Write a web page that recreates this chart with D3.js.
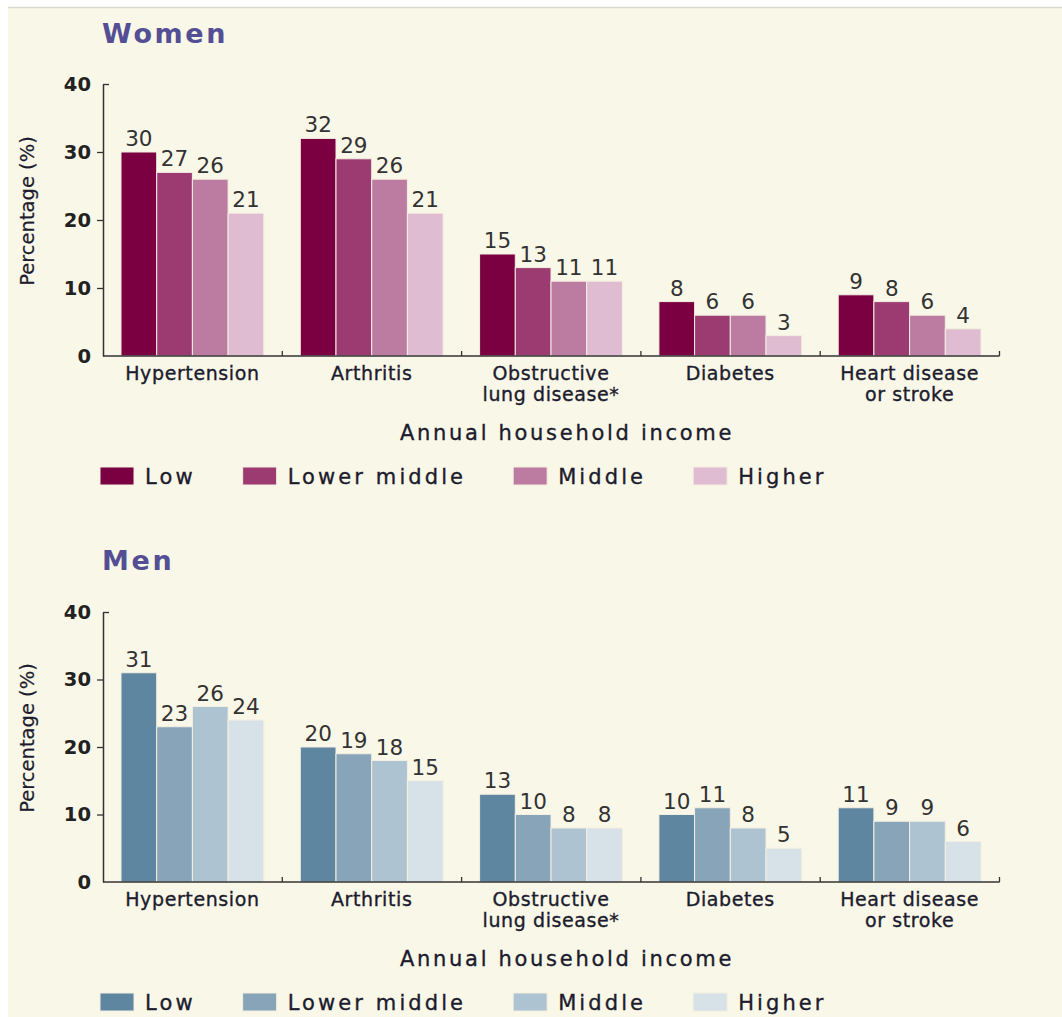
<!DOCTYPE html>
<html>
<head>
<meta charset="utf-8">
<script src="https://cdn.jsdelivr.net/npm/d3@7"></script>
<style>
  html, body { margin: 0; padding: 0; background: #ffffff; }
  svg { display: block; }
  text { font-family: "DejaVu Sans", sans-serif; }
</style>
</head>
<body>
<svg id="chart" width="1062" height="1017"></svg>
<script>
// ---------- data ----------
const categories = ["Hypertension", "Arthritis", "Obstructive\nlung disease*", "Diabetes", "Heart disease\nor stroke"];
const incomeGroups = ["Low", "Lower middle", "Middle", "Higher"];
const yTicks = [0, 10, 20, 30, 40];

const womenLow         = [30, 32, 15, 8, 9];
const womenLowerMiddle = [27, 29, 13, 6, 8];
const womenMiddle      = [26, 26, 11, 6, 6];
const womenHigher      = [21, 21, 11, 3, 4];

const menLow         = [31, 20, 13, 10, 11];
const menLowerMiddle = [23, 19, 10, 11, 9];
const menMiddle      = [26, 18, 8, 8, 9];
const menHigher      = [24, 15, 8, 5, 6];

const womenColors = ["#7b0042", "#9c3b71", "#bc7ca2", "#e0bcd2"];
const menColors   = ["#5f86a0", "#87a4b8", "#adc3d1", "#d6e1e8"];

const panelTitles = ["Women", "Men"];
const xTitle = "Annual household income";
const yTitle = "Percentage (%)";

// ---------- drawing ----------
const svg = d3.select("#chart");
svg.append("rect").attr("x", 8).attr("y", 8).attr("width", 1054).attr("height", 1009).attr("fill", "#f9f7e7");
svg.append("line").attr("x1", 8).attr("x2", 1062).attr("y1", 7.5).attr("y2", 7.5).attr("stroke", "#d9d9cf").attr("stroke-width", 1.5);

const textColor = "#1c1c2e";

function drawPanel(opts) {
  const { title, series, colors, titleY, top, bottom, catY, xTitleY, legendY } = opts;
  const left = 103, right = 999.5;
  const g = svg.append("g");

  // title
  g.append("text").attr("x", 102).attr("y", titleY)
    .attr("font-size", 27).attr("font-weight", "bold").attr("letter-spacing", 2.6)
    .attr("fill", "#544e94").text(title);

  const x = d3.scaleBand().domain(categories).range([left, right]).padding(0);
  const xi = d3.scaleBand().domain(incomeGroups).range([18, x.bandwidth() - 18.5]).padding(0);
  const y = d3.scaleLinear().domain([0, 40]).range([bottom, top]);

  // y axis
  const yAxis = d3.axisLeft(y).tickValues(yTicks).tickSize(6).tickSizeOuter(0).tickPadding(6);
  const ya = g.append("g").attr("transform", `translate(${left},0)`).call(yAxis);
  ya.select(".domain").attr("stroke", "#333").attr("stroke-width", 1.5);
  ya.selectAll(".tick line").attr("stroke", "#333").attr("stroke-width", 1.3);
  ya.selectAll(".tick").filter(d => d === 40).select("line").attr("x2", 6);
  ya.selectAll(".tick").filter(d => d === 0).select("line").remove();
  ya.selectAll(".tick text").attr("font-size", 19.5).attr("font-weight", "bold")
    .attr("font-family", "DejaVu Sans, sans-serif").attr("fill", "#222");

  // y title
  g.append("text")
    .attr("transform", `translate(34,${(top + bottom) / 2 - 9}) rotate(-90)`)
    .attr("text-anchor", "middle").attr("font-size", 19.5).attr("fill", textColor)
    .attr("stroke", textColor).attr("stroke-width", 0.2)
    .text(yTitle);

  // bars
  const groups = g.selectAll(".grp").data(categories).join("g")
    .attr("transform", d => `translate(${x(d)},0)`);
  incomeGroups.forEach((inc, si) => {
    groups.append("rect")
      .attr("x", xi(inc))
      .attr("width", xi.bandwidth())
      .attr("y", (d, ci) => y(series[si][ci]))
      .attr("height", (d, ci) => y(0) - y(series[si][ci]))
      .attr("fill", colors[si])
      .attr("stroke", "#f3efe2").attr("stroke-width", 1);
    groups.append("text")
      .attr("x", xi(inc) + xi.bandwidth() / 2)
      .attr("y", (d, ci) => y(series[si][ci]) - 6)
      .attr("text-anchor", "middle")
      .attr("font-size", 21.5).attr("fill", "#333")
      .text((d, ci) => series[si][ci]);
  });

  // x axis line and group boundary ticks
  g.append("line").attr("x1", left).attr("x2", right).attr("y1", bottom).attr("y2", bottom)
    .attr("stroke", "#333").attr("stroke-width", 1.5);
  g.selectAll(".bt").data(categories).join("line")
    .attr("x1", d => x(d) + x.bandwidth()).attr("x2", d => x(d) + x.bandwidth())
    .attr("y1", bottom).attr("y2", bottom - 5)
    .attr("stroke", "#333").attr("stroke-width", 1.3);

  // category labels (one text per line)
  categories.forEach(c => {
    const cx = x(c) + xi(incomeGroups[0]) + (xi.range()[1] - xi.range()[0]) / 2;
    c.split("\n").forEach((ln, i) => {
      g.append("text").attr("x", cx).attr("y", catY + i * 20.5)
        .attr("text-anchor", "middle").attr("font-size", 19).attr("letter-spacing", 0.6)
        .attr("fill", textColor).attr("stroke", textColor).attr("stroke-width", 0.35)
        .text(ln);
    });
  });

  // x title
  g.append("text").attr("x", 567).attr("y", xTitleY).attr("text-anchor", "middle")
    .attr("font-size", 21).attr("letter-spacing", 2.7).attr("fill", textColor)
    .attr("stroke", textColor).attr("stroke-width", 0.35)
    .text(xTitle);

  // legend
  let lx = 100;
  incomeGroups.forEach((inc, si) => {
    g.append("rect").attr("x", lx).attr("y", legendY).attr("width", 34).attr("height", 18)
      .attr("fill", colors[si]).attr("stroke", "#f3efe2").attr("stroke-width", 1);
    const t = g.append("text").attr("x", lx + 45).attr("y", legendY + 17)
      .attr("font-size", 21).attr("letter-spacing", 3.1).attr("fill", textColor)
      .attr("stroke", textColor).attr("stroke-width", 0.35)
      .text(inc);
    lx = lx + 45 + t.node().getComputedTextLength() + 47;
  });
}

drawPanel({
  title: panelTitles[0],
  series: [womenLow, womenLowerMiddle, womenMiddle, womenHigher],
  colors: womenColors,
  titleY: 43, top: 84, bottom: 356, catY: 380, xTitleY: 440, legendY: 467
});
drawPanel({
  title: panelTitles[1],
  series: [menLow, menLowerMiddle, menMiddle, menHigher],
  colors: menColors,
  titleY: 570, top: 612, bottom: 882, catY: 906, xTitleY: 966, legendY: 993
});
</script>
</body>
</html>
